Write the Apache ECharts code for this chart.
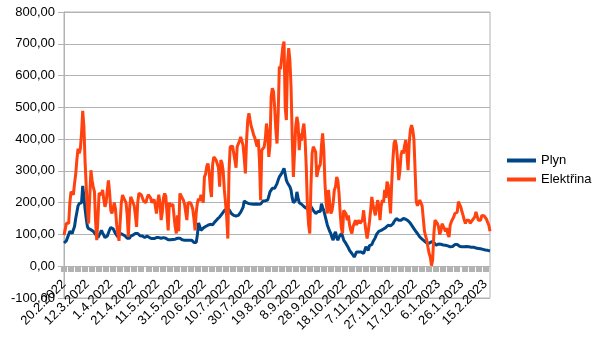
<!DOCTYPE html>
<html>
<head>
<meta charset="utf-8">
<script src="https://cdn.jsdelivr.net/npm/echarts@6/dist/echarts.min.js"></script>
<style>
html,body{margin:0;padding:0;background:#fff;}
#chart{width:605px;height:341px;}
</style>
</head>
<body>
<div id="chart"></div>
<script>
// Daily categories: 20.2.2022 .. 19.2.2023
var startDate = [2022, 2, 20];
var dayCount = 365;
var categories = [];
for (var i = 0; i < dayCount; i++) {
  var dt = new Date(Date.UTC(startDate[0], startDate[1] - 1, startDate[2] + i));
  categories.push(dt.getUTCDate() + '.' + (dt.getUTCMonth() + 1) + '.' + dt.getUTCFullYear());
}

var seriesNames = ['Plyn', 'Elektřina'];

var plyn = [
  73,75,80,90,100,110,108,103,115,125,
  150,170,190,197,197,200,253,220,180,150,
  125,118,117,115,113,110,105,100,97,90,
  87,105,113,105,98,90,87,95,105,115,
  122,120,118,112,103,98,92,95,103,102,
  100,98,96,92,88,82,88,95,97,98,
  100,103,108,103,98,96,98,95,92,90,
  92,95,92,90,88,87,87,87,88,90,
  92,90,88,88,90,90,90,88,85,83,
  82,83,84,84,84,85,86,88,90,88,
  85,83,82,82,82,82,82,82,82,82,
  80,75,69,75,100,136,125,113,115,120,
  124,125,127,129,130,132,132,130,132,140,
  145,148,150,155,160,165,171,175,176,180,
  182,178,172,166,162,160,163,158,153,160,
  166,170,171,185,205,208,200,197,197,197,
  196,196,195,194,196,197,195,194,196,200,
  205,208,206,205,208,220,234,240,245,240,
  245,250,260,271,281,285,292,300,308,290,
  271,262,260,250,239,215,200,205,208,234,
  215,200,197,195,192,188,185,182,185,187,
  190,188,182,176,172,166,170,172,166,172,
  197,185,175,160,145,130,124,110,103,90,
  82,100,108,90,82,92,98,103,95,82,
  78,71,65,58,50,45,40,35,29,35,
  45,50,45,42,45,40,40,45,61,55,
  50,65,71,68,77,82,90,100,103,110,
  113,113,115,117,119,122,126,129,127,127,
  129,133,140,145,150,148,145,143,145,148,
  150,150,148,145,143,140,135,130,124,118,
  113,108,103,98,92,88,85,82,79,77,
  73,69,72,75,77,76,75,70,66,68,
  70,70,69,68,67,66,66,65,64,62,
  61,61,62,65,68,71,68,65,63,62,
  61,61,61,62,62,61,61,60,60,61,
  60,59,57,56,56,55,55,54,53,52,
  51,50,50,49,48
];

var elektrina = [
  98,115,135,140,135,200,235,230,225,260,
  290,335,370,355,370,420,489,440,330,250,
  180,135,220,302,270,250,235,140,82,150,
  230,234,225,240,210,187,200,240,270,230,
  175,166,170,200,180,130,103,80,77,200,
  224,215,220,200,160,92,180,218,210,200,
  190,160,124,200,230,234,225,215,205,208,
  200,215,225,229,215,200,195,210,190,166,
  200,225,200,145,170,215,229,220,215,113,
  200,190,192,195,190,124,103,160,110,229,
  225,215,208,195,170,145,200,203,200,192,
  180,150,113,170,200,213,205,225,220,200,
  281,290,315,323,300,245,218,320,344,340,
  334,330,310,250,334,325,300,240,200,155,
  87,300,376,381,378,375,334,310,376,370,
  395,407,402,380,340,292,397,460,481,460,
  440,428,413,405,390,376,400,334,208,365,
  370,375,400,449,420,344,380,533,560,550,
  500,430,386,480,628,620,617,691,707,500,
  460,640,686,649,565,407,281,360,440,470,
  449,365,418,395,430,449,400,313,187,130,
  103,250,355,376,380,360,281,300,313,320,
  380,418,365,260,200,166,240,200,166,175,
  200,240,250,281,270,230,166,120,103,176,
  170,165,145,160,130,113,103,125,134,145,
  130,124,145,135,140,145,176,140,110,87,
  110,140,176,218,195,176,160,185,208,190,
  145,190,208,200,240,215,266,255,250,166,
  260,334,386,397,380,334,271,300,350,365,
  355,380,397,355,302,390,430,444,429,400,
  302,203,190,200,208,210,190,150,110,95,
  82,60,40,29,2,20,100,145,140,135,
  124,100,110,134,128,118,110,120,100,92,
  130,140,148,155,166,160,170,203,195,187,
  172,160,145,134,145,148,145,135,140,145,
  145,155,171,165,145,140,145,160,161,158,
  155,148,138,129,110
];

var yMin = -100, yMax = 800, yStep = 100;
var colors = ['#004586', '#ff420e'];
var grey = '#b3b3b3';
var font = 'Liberation Sans, Arial, sans-serif';

var chart = echarts.init(document.getElementById('chart'), null, {renderer: 'canvas'});
chart.setOption({
  animation: false,
  backgroundColor: '#ffffff',
  color: colors,
  grid: {left: 64, right: 115, top: 12, bottom: 43, show: true, borderColor: grey, borderWidth: 1,
         containLabel: false, outerBoundsMode: 'none'},
  legend: {
    orient: 'vertical',
    left: 502,
    top: 149,
    itemWidth: 29,
    itemHeight: 4,
    itemGap: 6,
    icon: 'rect',
    data: seriesNames,
    textStyle: {fontFamily: font, fontSize: 13, color: '#000'}
  },
  xAxis: [{
    type: 'category',
    data: categories,
    position: 'bottom',
    boundaryGap: false,
    axisLine: {onZero: true, lineStyle: {color: grey, width: 1}},
    axisTick: {show: false},
    axisLabel: {interval: 19, rotate: 45, margin: -16, fontFamily: font, fontSize: 13, color: '#000'},
    splitLine: {show: false}
  }, {
    type: 'category',
    data: categories,
    position: 'top',
    offset: -254,
    boundaryGap: false,
    axisLine: {show: false, onZero: false},
    axisTick: {show: true, inside: true, interval: 5, length: 6, lineStyle: {color: grey, width: 6}},
    axisLabel: {show: false},
    splitLine: {show: false}
  }],
  yAxis: {
    type: 'value',
    min: yMin, max: yMax, interval: yStep,
    axisLine: {show: true, lineStyle: {color: grey}},
    axisTick: {show: true, length: 6, lineStyle: {color: grey}},
    axisLabel: {
      margin: 9, fontFamily: font, fontSize: 13, color: '#000',
      formatter: function (v) { return v.toFixed(2).replace('.', ','); }
    },
    splitLine: {show: true, lineStyle: {color: grey, width: 1}}
  },
  series: [
    {name: seriesNames[0], type: 'line', xAxisIndex: 0, data: plyn, symbol: 'none', lineStyle: {width: 3, color: colors[0]}, itemStyle: {color: colors[0]}},
    {name: seriesNames[1], type: 'line', xAxisIndex: 0, data: elektrina, symbol: 'none', lineStyle: {width: 3, color: colors[1]}, itemStyle: {color: colors[1]}}
  ]
});
</script>
</body>
</html>
